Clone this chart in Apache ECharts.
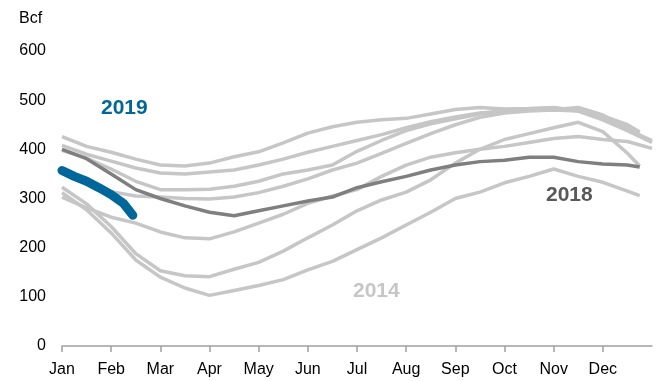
<!DOCTYPE html>
<html><head><meta charset="utf-8">
<script src="https://cdn.jsdelivr.net/npm/echarts@6/dist/echarts.min.js"></script>
<style>html,body{margin:0;padding:0;background:#fff}#c{width:657px;height:381px}</style>
</head><body><div id="c"></div>
<script>
const monthLabels = ['Jan','Feb','Mar','Apr','May','Jun','Jul','Aug','Sep','Oct','Nov','Dec'];
const yTicks = [0,100,200,300,400,500,600];
// x positions in months (half-month sampling)
const xFull = [0,0.5,1,1.5,2,2.5,3,3.5,4,4.5,5,5.5,6,6.5,7,7.5,8,8.5,9,9.5,10,10.5,11,11.5,12];
const xShort = [0,0.5,1,1.5,2,2.5,3,3.5,4,4.5,5,5.5,6,6.5,7,7.5,8,8.5,9,9.5,10,10.5,11,11.5,11.75];
const x2019 = [0,0.25,0.5,0.75,1,1.25,1.44];

const lineA = [426,406,394,380,368,366,372,385,395,413,433,446,455,460,463,472,481,485,482,483,485,478,460,438,414];
const lineB = [408,390,376,362,352,350,354,358,368,380,394,406,418,430,444,456,466,474,478,480,481,485,470,443,430];
const lineC = [398,382,360,335,318,318,319,325,335,350,358,368,396,418,438,452,462,472,478,482,484,480,463,440,418];
const lineD = [357,335,314,305,303,300,299,303,312,325,340,358,372,392,412,432,450,465,474,478,480,478,468,450,435];
const lineE = [303,281,262,250,232,220,218,232,250,268,290,305,318,345,368,384,393,400,406,414,422,426,420,416,402];
const lineF = [323,289,243,188,153,143,141,156,170,193,220,246,275,297,313,338,372,400,420,432,444,455,436,392,366];
const line2014 = [312,277,230,175,140,118,103,113,123,135,155,172,196,220,246,272,300,313,332,345,360,345,333,315,306];
const line2018 = [400,381,350,318,300,285,272,265,275,285,295,303,322,334,345,358,368,375,378,384,384,375,370,368,364];
const line2019 = [357,345,335,322,308,290,266];

function pairs(xs, ys){ return ys.map((v,i)=>[xs[i], v]); }

const light = '#c6c6c6';
const font = '"Liberation Sans", Arial, sans-serif';
const lightSeries = [
  ['lineA', xFull, lineA],
  ['lineB', xShort, lineB],
  ['lineC', xFull, lineC],
  ['lineD', xShort, lineD],
  ['lineE', xFull, lineE],
  ['lineF', xShort, lineF],
  ['2014', xShort, line2014]
].map(([name, xs, ys]) => ({
  name, type:'line', data: pairs(xs, ys), symbol:'none', z:2,
  lineStyle:{color: light, width:3.5}, silent:true
}));

const chart = echarts.init(document.getElementById('c'));
chart.setOption({
  animation:false,
  backgroundColor:'#fff',
  grid:{left:62, right:5, top:51, bottom:35},
  xAxis:{
    type:'value', min:0, max:12, interval:1,
    axisLine:{show:true, lineStyle:{color:'#a0a0a0', width:1.5}},
    axisTick:{show:true, length:6, lineStyle:{color:'#a0a0a0', width:1.5}, customValues:[0,1,2,3,4,5,6,7,8,9,10,11]},
    axisLabel:{color:'#000', fontSize:16, fontFamily:font, margin:16,
      customValues:[0,1,2,3,4,5,6,7,8,9,10,11],
      formatter:v=>monthLabels[Math.round(v)] || ''},
    splitLine:{show:false}
  },
  yAxis:{
    type:'value', min:yTicks[0], max:yTicks[yTicks.length-1], interval:100,
    axisLine:{show:false}, axisTick:{show:false}, splitLine:{show:false},
    axisLabel:{color:'#000', fontSize:16, fontFamily:font, margin:16}
  },
  graphic:[
    {type:'text', left:19, top:11, style:{text:'Bcf', fill:'#000', font:'16px ' + font}},
    {type:'text', left:101, top:98, style:{text:'2019', fill:'#00679a', font:'bold 21px ' + font}},
    {type:'text', left:546, top:185, style:{text:'2018', fill:'#595959', font:'bold 21px ' + font}},
    {type:'text', left:353, top:281, style:{text:'2014', fill:'#c6c6c6', font:'bold 21px ' + font}}
  ],
  series: lightSeries.concat([
    {name:'2018', type:'line', data:pairs(xShort, line2018), symbol:'none', z:3, silent:true,
     lineStyle:{color:'#7f7f7f', width:3.5}},
    {name:'2019', type:'line', data:pairs(x2019, line2019), symbol:'none', z:4, silent:true,
     lineStyle:{color:'#00679a', width:9, cap:'round', join:'round'}}
  ])
});
</script></body></html>
